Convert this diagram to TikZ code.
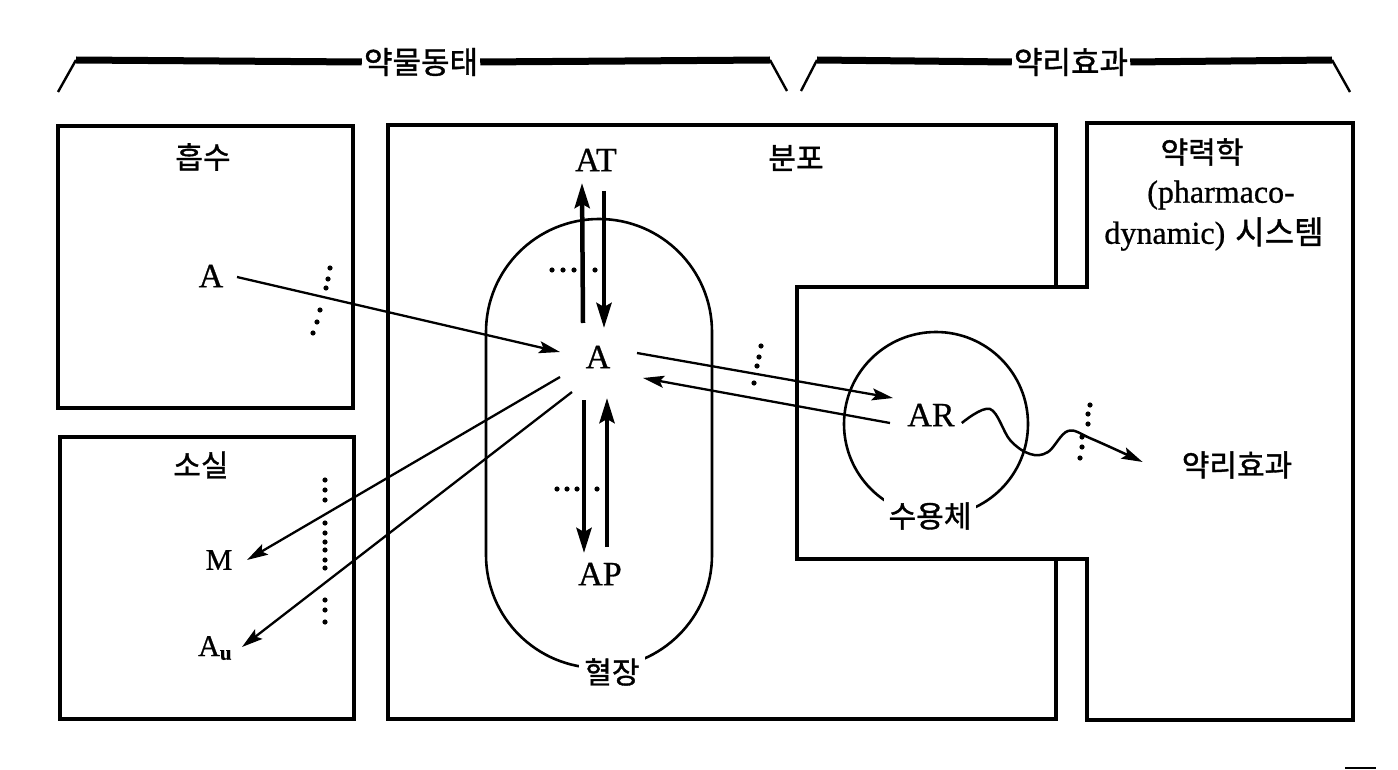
\documentclass[tikz,border=0pt]{standalone}
\usepackage{fontspec}
\setmainfont{Liberation Serif}[FakeBold=0.8]
\newfontfamily\krfont{Noto Sans CJK KR}[FakeBold=1.2]
\usetikzlibrary{calc,arrows.meta}
\begin{document}
\begin{tikzpicture}[x=1pt,y=-1pt,
  box/.style={line width=3.4pt, line join=miter},
  bar/.style={line width=7pt},
  foot/.style={line width=2.4pt},
  lat/.style={inner sep=1pt, font=\fontsize{34}{38}\selectfont},
  latsm/.style={inner sep=1pt, font=\fontsize{30}{34}\selectfont},
  kr/.style={inner sep=1pt, font=\krfont\fontsize{30}{34}\selectfont},
  krhead/.style={inner sep=2pt, font=\krfont\fontsize{31}{34}\selectfont},
  krw/.style={kr, fill=white, inner sep=5pt},
  arr/.style={line width=2.3pt, -{Stealth[length=21pt,width=12pt,inset=4pt]}},
  bigarr/.style={line width=4.5pt, -{Stealth[length=25pt,width=15pt,inset=4pt]}},
  thinline/.style={line width=2.6pt}
]
\useasboundingbox (0,0) rectangle (1398,770);

% ---- header brackets ----
\node[krhead] (pk) at (421,62) {약물동태};
\draw[foot] (58,92) -- (76,60);
\draw[bar] (76,60) -- (pk.west);
\draw[bar] (pk.east) -- (770,60);
\draw[foot] (770,60) -- (787,91);

\node[krhead] (pd) at (1071,62) {약리효과};
\draw[foot] (801,91) -- (817,60);
\draw[bar] (817,60) -- (pd.west);
\draw[bar] (pd.east) -- (1332,60);
\draw[foot] (1332,60) -- (1350,92);

% ---- boxes ----
\draw[box] (58,126) rectangle (353,408);
\draw[box] (60,437) rectangle (354,719);
\draw[box] (1056,287) -- (1056,125) -- (388,125) -- (388,719) -- (1056,719) -- (1056,559);
\draw[box] (1087,123) -- (1353,123) -- (1353,720) -- (1087,720) -- (1087,559)
           -- (797,559) -- (797,287) -- (1087,287) -- cycle;

% small mark at bottom right
\draw[line width=1.5pt] (1345,768) -- (1376,768);

% ---- plasma capsule ----
\draw[thinline] (486,555) -- (486,332) arc[start angle=180, end angle=360, radius=113]
   -- (712,555) arc[start angle=0, end angle=180, radius=113];
\node[krw] (plasma) at (612,672) {혈장};

% ---- receptor circle ----
\draw[thinline] (936,424) circle (92pt);
\node[krw] (rec) at (930,516) {수용체};

% ---- labels ----
\node[kr] (abs) at (203,157) {흡수};
\node[kr] (loss) at (201,465) {소실};
\node[kr] (dist) at (796,158) {분포};
\node[kr] (pd1) at (1202,152) {약력학};
\node[latsm, font=\fontsize{32}{34}\selectfont] (pd2) at (1221,195) {(pharmaco-};
\node[latsm, font=\fontsize{32}{34}\selectfont] (pd3) at (1214,234) {dynamic)\hspace{10pt}{\krfont 시스템}};
\node[kr] (eff) at (1237,465) {약리효과};

\node[lat] (Aabs) at (211,276) {A};
\node[lat] (Acen) at (598,357) {A};
\node[lat] (AT) at (596,160) {AT};
\node[lat] (AP) at (600,574) {AP};
\node[lat] (AR) at (931,415) {AR};
\node[latsm] (M) at (219,560) {M};
\node[latsm, anchor=base west] (Au) at (197,656) {A\textsubscript{\textbf{u}}};

% ---- connectors ----
\draw[arr] ($(Aabs)+(26,1)$) -- ($(Acen)+(-38,-5)$);
\draw[arr] ($(Acen)+(39,-4)$) -- ($(AR)+(-38,-17)$);
\draw[arr] ($(AR)+(-41,8)$) -- ($(Acen)+(45,21)$);
\draw[arr] ($(Acen)+(-38,20)$) -- ($(M)+(28,0)$);
\draw[arr] ($(Acen)+(-26,35)$) -- ($(Au.base west)+(45,-9)$);

\draw[bigarr] ($(Acen)+(-15,-34)$) -- ($(AT)+(-14,23)$);
\draw[bigarr] ($(AT)+(8,31)$) -- ($(Acen)+(6,-29)$);
\draw[bigarr] ($(Acen)+(-14,43)$) -- ($(AP)+(-16,-21)$);
\draw[bigarr] ($(AP)+(7,-27)$) -- ($(Acen)+(9,41)$);

% wave signal
\coordinate (w0) at ($(AR.east)+(6,8)$);
\coordinate (w7) at ($(eff.west)+(-38,-3)$);
\draw[line width=2.5pt, -{Stealth[length=21pt,width=12pt,inset=4pt]}]
  plot[smooth, tension=0.6] coordinates {(w0) (990,409) (1010,440) (1030,454) (1048,452) (1068,431) (1092,439) (w7)};

% ---- membrane dots ----
\foreach \p in {(330,268),(328,279),(326,288),(320,310),(317,322),(313,333)}
  \fill \p circle (2.6pt);
\foreach \yy in {480,490,500,523,533,542,550,560,568,600,610,622}
  \fill (325,\yy) circle (2.6pt);
\foreach \p in {(552,270),(563,270),(574,270),(595,270)}
  \fill \p circle (2.6pt);
\foreach \p in {(557,489),(567,489),(577,489),(597,489)}
  \fill \p circle (2.6pt);
\foreach \p in {(761,346),(759,357),(757,366),(754,383)}
  \fill \p circle (2.6pt);
\foreach \p in {(1090,405),(1088,414),(1088,424),(1082,437),(1082,447),(1080,458)}
  \fill \p circle (2.6pt);
\end{tikzpicture}
\end{document}
